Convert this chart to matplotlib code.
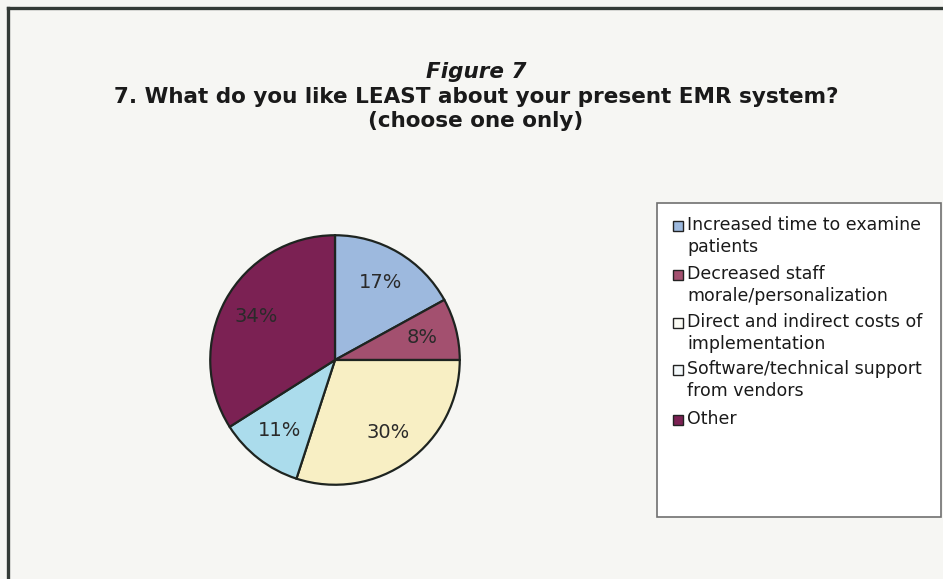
import matplotlib
matplotlib.use("Agg")
import matplotlib.pyplot as plt
from matplotlib.patches import Rectangle
from matplotlib.lines import Line2D

categories = [
    "Increased time to examine\npatients",
    "Decreased staff\nmorale/personalization",
    "Direct and indirect costs of\nimplementation",
    "Software/technical support\nfrom vendors",
    "Other",
]
shares = [17, 8, 30, 11, 34]
colors = ["#9db9de", "#a3506f", "#f8efc4", "#abdcec", "#7b2153"]
swatch_colors = ["#9db9de", "#a3506f", "#fbfbf4", "#f4f9fb", "#7b2153"]

title_lines = ["Figure 7",
               "7. What do you like LEAST about your present EMR system?",
               "(choose one only)"]

W, H = 943, 579
fig = plt.figure(figsize=(W / 100, H / 100), dpi=100)
fig.patch.set_facecolor("#f6f6f3")


def fx(px):
    return px / W


def fy(py):
    return 1 - py / H


# outer frame (top and left edges)
fig.add_artist(Line2D([fx(8), fx(8)], [0, fy(8)], transform=fig.transFigure,
                      color="#333a36", lw=2.4))
fig.add_artist(Line2D([fx(8), 1], [fy(8), fy(8)], transform=fig.transFigure,
                      color="#333a36", lw=2.4))

# titles
title_y = [72, 97, 121]
for i, line in enumerate(title_lines):
    fig.text(fx(476), fy(title_y[i]), line, ha="center", va="center",
             fontsize=15.5, fontweight="bold",
             fontstyle="italic" if i == 0 else "normal", color="#1a1a1a")

# pie
cx, cy, r = 335, 360, 126
ax = fig.add_axes([fx(cx - r), fy(cy + r), 2 * r / W, 2 * r / H])
ax.set_facecolor("none")
wedges, _, autotexts = ax.pie(
    shares, colors=colors, startangle=90, counterclock=False,
    autopct=lambda p: f"{p:.0f}%", pctdistance=0.72, radius=1.0,
    wedgeprops=dict(edgecolor="#1e2420", linewidth=1.6),
    textprops=dict(fontsize=14, color="#2a2a2a"))
ax.set_xlim(-1.01, 1.01)
ax.set_ylim(-1.01, 1.01)
ax.set_aspect("equal")
ax.axis("off")

# legend box with swatches and labels
fig.add_artist(Rectangle((fx(657), fy(517)), (941 - 657) / W, (517 - 203) / H,
                         transform=fig.transFigure, facecolor="white",
                         edgecolor="#707070", lw=1.2))
entry_y = [226, 275, 323, 370, 420]
for label, sc, y in zip(categories, swatch_colors, entry_y):
    fig.add_artist(Rectangle((fx(673), fy(y + 5)), 10 / W, 10 / H,
                             transform=fig.transFigure, facecolor=sc,
                             edgecolor="#222222", lw=1.0))
    fig.text(fx(687), fy(y - 10), label, ha="left", va="top",
             fontsize=12.5, linespacing=1.3, color="#1a1a1a")

fig.savefig("out.png", dpi=100, facecolor=fig.get_facecolor())
